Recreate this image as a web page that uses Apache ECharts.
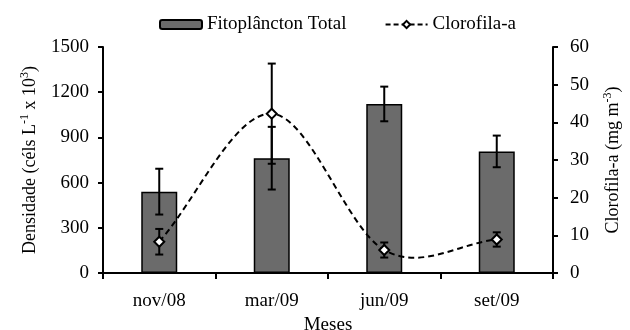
<!DOCTYPE html>
<html>
<head>
<meta charset="utf-8">
<script src="https://cdn.jsdelivr.net/npm/echarts@6/dist/echarts.min.js"></script>
<style>html,body{margin:0;padding:0;background:#fff}#c{width:630px;height:330px}</style>
</head>
<body>
<div id="c"></div>
<script>
const categories = ['nov/08', 'mar/09', 'jun/09', 'set/09'];
const fitoValues = [540, 762, 1122, 807];
const fitoErr = [152, 208, 115, 105];
const chlValues = [8.3, 42.3, 6.1, 8.9];
const chlErr = [3.4, 13.3, 2.0, 1.9];
const leftAxis = { min: 0, max: 1500, interval: 300 };
const rightAxis = { min: 0, max: 60, interval: 10 };

const FONT = 'Liberation Serif';
const chart = echarts.init(document.getElementById('c'), null, { renderer: 'canvas' });

function errData(vals, errs) {
  return vals.map((v, i) => [i, v - errs[i], v + errs[i]]);
}
function errRender(params, api) {
  const lo = api.coord([api.value(0), api.value(1)]);
  const hi = api.coord([api.value(0), api.value(2)]);
  const w = 4;
  const st = { stroke: '#000', lineWidth: 2 };
  return {
    type: 'group',
    children: [
      { type: 'line', shape: { x1: lo[0], y1: lo[1], x2: hi[0], y2: hi[1] }, style: st },
      { type: 'line', shape: { x1: lo[0] - w, y1: lo[1], x2: lo[0] + w, y2: lo[1] }, style: st },
      { type: 'line', shape: { x1: hi[0] - w, y1: hi[1], x2: hi[0] + w, y2: hi[1] }, style: st }
    ]
  };
}
// Smoothed (Catmull-Rom style, like a spreadsheet's smoothed line) curve through the data points
function curveRender(params, api) {
  if (params.dataIndex !== 0) return { type: 'group', children: [] };
  const pts = chlValues.map((v, i) => api.coord([i, v]));
  const n = pts.length;
  const tan = pts.map((p, i) => {
    const a = pts[Math.max(0, i - 1)], b = pts[Math.min(n - 1, i + 1)];
    const k = (i === 0 || i === n - 1) ? 1 : 0.5;
    return [(b[0] - a[0]) * k, (b[1] - a[1]) * k];
  });
  let d = 'M' + pts[0][0] + ' ' + pts[0][1];
  for (let i = 0; i < n - 1; i++) {
    const c1 = [pts[i][0] + tan[i][0] / 3, pts[i][1] + tan[i][1] / 3];
    const c2 = [pts[i + 1][0] - tan[i + 1][0] / 3, pts[i + 1][1] - tan[i + 1][1] / 3];
    d += ' C' + c1[0] + ' ' + c1[1] + ' ' + c2[0] + ' ' + c2[1] + ' ' + pts[i + 1][0] + ' ' + pts[i + 1][1];
  }
  return {
    type: 'path',
    shape: { pathData: d },
    style: { fill: null, stroke: '#000', lineWidth: 2, lineDash: [6, 4] }
  };
}

const axisCommon = {
  axisLine: { show: true, lineStyle: { color: '#000', width: 2 } },
  axisTick: { show: true, length: 5, lineStyle: { color: '#000', width: 2 } },
  splitLine: { show: false }
};
const nameRich = {
  a: { fontFamily: FONT, fontSize: 18, color: '#000', lineHeight: 22 },
  s: { fontFamily: FONT, fontSize: 12, color: '#000', verticalAlign: 'top', lineHeight: 22 }
};

chart.setOption({
  animation: false,
  textStyle: { fontFamily: FONT },
  grid: { left: 103, right: 77, top: 47, bottom: 57, containLabel: false, outerBoundsMode: 'none' },
  legend: {
    top: 10, left: 154,
    itemWidth: 42, itemHeight: 9, itemGap: 38,
    textStyle: { color: '#000', fontFamily: FONT, fontSize: 19 },
    data: [
      { name: 'Fitoplâncton Total' },
      { name: 'Clorofila-a', lineStyle: { color: '#000', width: 2, type: [5, 3], opacity: 1 } }
    ]
  },
  xAxis: Object.assign({}, axisCommon, {
    type: 'category',
    data: categories,
    boundaryGap: true,
    axisTick: { show: true, length: 6, alignWithLabel: false, lineStyle: { color: '#000', width: 2 } },
    axisLabel: { color: '#000', fontFamily: FONT, fontSize: 19, margin: 19 },
    name: 'Meses',
    nameLocation: 'middle',
    nameGap: 41,
    nameTextStyle: { color: '#000', fontFamily: FONT, fontSize: 19 }
  }),
  yAxis: [
    Object.assign({}, axisCommon, {
      type: 'value', position: 'left',
      min: leftAxis.min, max: leftAxis.max, interval: leftAxis.interval,
      axisLabel: { color: '#000', fontFamily: FONT, fontSize: 19, margin: 14, formatter: v => String(v) },
      name: '{a|Densidade (céls L}{s|-1}{a| x 10}{s|3}{a|)}',
      nameLocation: 'middle', nameRotate: 90, nameGap: 62,
      nameTextStyle: { color: '#000', rich: nameRich }
    }),
    Object.assign({}, axisCommon, {
      type: 'value', position: 'right',
      min: rightAxis.min, max: rightAxis.max, interval: rightAxis.interval,
      axisLabel: { color: '#000', fontFamily: FONT, fontSize: 19, margin: 17, formatter: v => String(v) },
      name: '{a|Clorofila-a (mg m}{s|-3}{a|)}',
      nameLocation: 'middle', nameRotate: 90, nameGap: 49,
      nameTextStyle: { color: '#000', rich: nameRich }
    })
  ],
  series: [
    {
      name: 'Fitoplâncton Total', type: 'bar', yAxisIndex: 0,
      data: fitoValues, barWidth: 36,
      itemStyle: { color: '#6b6b6b', borderColor: '#000', borderWidth: 1.5 },
      z: 2
    },
    {
      type: 'custom', yAxisIndex: 0, renderItem: errRender,
      data: errData(fitoValues, fitoErr), z: 3, silent: true
    },
    {
      type: 'custom', yAxisIndex: 1, renderItem: curveRender,
      data: chlValues.map((v, i) => [i, v]), z: 4, silent: true
    },
    {
      type: 'custom', yAxisIndex: 1, renderItem: errRender,
      data: errData(chlValues, chlErr), z: 5, silent: true
    },
    {
      name: 'Clorofila-a', type: 'line', yAxisIndex: 1,
      data: chlValues,
      symbol: 'diamond', symbolSize: 10,
      lineStyle: { color: '#000', width: 2, opacity: 0 },
      itemStyle: { color: '#fff', borderColor: '#000', borderWidth: 2 },
      z: 6
    }
  ]
});
</script>
</body>
</html>
